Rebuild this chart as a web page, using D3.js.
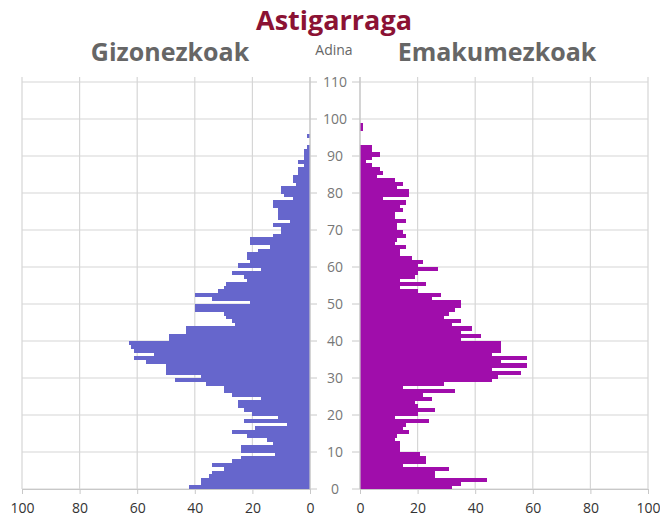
<!DOCTYPE html>
<html>
<head>
<meta charset="utf-8">
<style>
  body { margin: 0; background: #fff; }
  svg { display: block; font-family: 'Open Sans', sans-serif; }
  .grid line { stroke: #d6d6d6; stroke-width: 1.2; }
  .axis-line { stroke: #c8c8c8; stroke-width: 1.2; }
  .age-label { font-size: 14px; fill: #777; }
  .val-label { font-size: 14px; fill: #333; }
  .bars rect { shape-rendering: crispEdges; }
</style>
</head>
<body>
<svg width="660" height="519"></svg>
<script src="https://d3js.org/d3.v7.min.js"></script>
<script>
// single year ages 0..100
const ages = d3.range(0, 101);

const men = [
  42, 38, 38, 35, 34, 30, 34, 27, 24, 12,   // 0-9
  24, 24, 13, 15, 22, 27, 19, 8, 23, 11,    // 10-19
  20, 23, 25, 25, 17, 27, 30, 30, 36, 47,   // 20-29
  38, 50, 50, 50, 57, 61, 54, 61, 62, 63,   // 30-39
  49, 49, 43, 43, 26, 27, 29, 30, 40, 40,   // 40-49
  21, 34, 40, 32, 30, 29, 22, 23, 27, 17,   // 50-59
  25, 21, 22, 22, 18, 14, 21, 21, 13, 10,   // 60-69
  10, 13, 7, 11, 11, 11, 13, 13, 6, 9,      // 70-79
  10, 10, 5, 6, 6, 4, 4, 2, 4, 2,           // 80-89
  2, 2, 1, 0, 0, 1, 0, 0, 0, 0,             // 90-99
  0
];

const women = [
  32, 35, 44, 26, 26, 31, 15, 23, 23, 21,   // 0-9
  14, 14, 14, 12, 13, 17, 15, 16, 24, 12,   // 10-19
  20, 26, 20, 19, 25, 22, 33, 15, 29, 46,   // 20-29
  48, 56, 46, 58, 49, 58, 46, 49, 49, 49,   // 30-39
  35, 42, 35, 39, 32, 35, 29, 31, 33, 35,   // 40-49
  35, 25, 28, 20, 14, 23, 14, 19, 20, 27,   // 50-59
  20, 22, 18, 14, 14, 16, 12, 13, 16, 15,   // 60-69
  13, 13, 16, 12, 12, 15, 14, 16, 8, 17,    // 70-79
  17, 13, 15, 12, 6, 8, 7, 4, 2, 4,         // 80-89
  7, 4, 4, 0, 0, 0, 0, 1, 1, 0,             // 90-99
  0
];

const ageTicks = d3.range(0, 111, 10);
const valueTicks = [0, 20, 40, 60, 80, 100];

const svg = d3.select("svg");

let y = d3.scaleLinear().domain([0, 110]).range([489, 82]);
let xMen = d3.scaleLinear().domain([0, 100]).range([310, 22]);
let xWomen = d3.scaleLinear().domain([0, 100]).range([360, 648]);

const gridTop = y(110) - 5;

// gridlines
[xMen, xWomen].forEach(x => {
  let g = svg.append("g").attr("class", "grid");
  g.selectAll(".v")
    .data(valueTicks)
    .join("line")
    .attr("x1", d => x(d)).attr("x2", d => x(d))
    .attr("y1", gridTop).attr("y2", y(0));
  g.selectAll(".h")
    .data(ageTicks)
    .join("line")
    .attr("x1", x(0)).attr("x2", x(100))
    .attr("y1", d => y(d)).attr("y2", d => y(d));
});

// bars
svg.append("g")
  .attr("class", "bars")
  .selectAll("rect")
  .data(ages)
  .join("rect")
  .attr("x", a => xMen(men[a]))
  .attr("y", a => y(a + 1))
  .attr("width", a => xMen(0) - xMen(men[a]))
  .attr("height", a => y(a) - y(a + 1) + 0.6)
  .attr("fill", "#6666cc");

svg.append("g")
  .attr("class", "bars")
  .selectAll("rect")
  .data(ages)
  .join("rect")
  .attr("x", xWomen(0))
  .attr("y", a => y(a + 1))
  .attr("width", a => xWomen(women[a]) - xWomen(0))
  .attr("height", a => y(a) - y(a + 1) + 0.6)
  .attr("fill", "#a00dab");

// zero axis lines
svg.append("line").attr("class", "axis-line")
  .attr("x1", xMen(0)).attr("x2", xMen(0)).attr("y1", gridTop).attr("y2", y(0));
svg.append("line").attr("class", "axis-line")
  .attr("x1", xWomen(0)).attr("x2", xWomen(0)).attr("y1", gridTop).attr("y2", y(0));

// bottom axes
[xMen, xWomen].forEach(x => {
  let ax = svg.append("g")
    .attr("transform", `translate(0, ${y(0)})`)
    .call(d3.axisBottom(x).tickValues(valueTicks).tickSize(5).tickPadding(9).tickFormat(d3.format("d")));
  ax.select(".domain").attr("stroke", "#c8c8c8");
  ax.selectAll(".tick line").attr("stroke", "#c8c8c8");
  ax.selectAll(".tick text").attr("class", "val-label").style("font-family", "'Open Sans', sans-serif").attr("font-size", null);
});

// age axis in the middle
let mid = (xMen(0) + xWomen(0)) / 2;
let ageAxis = svg.append("g");
ageAxis.selectAll(".tl")
  .data(ageTicks)
  .join("line")
  .attr("x1", xMen(0)).attr("x2", xMen(0) + 7)
  .attr("y1", d => y(d)).attr("y2", d => y(d))
  .attr("stroke", "#c8c8c8");
ageAxis.selectAll(".tr")
  .data(ageTicks)
  .join("line")
  .attr("x1", xWomen(0) - 8).attr("x2", xWomen(0))
  .attr("y1", d => y(d)).attr("y2", d => y(d))
  .attr("stroke", "#c8c8c8");
ageAxis.selectAll("text")
  .data(ageTicks)
  .join("text")
  .attr("class", "age-label")
  .attr("x", mid)
  .attr("y", d => y(d))
  .attr("dy", "0.35em")
  .attr("text-anchor", "middle")
  .text(d => d);

// titles
svg.append("text")
  .attr("x", 334).attr("y", 30)
  .attr("text-anchor", "middle")
  .style("font-size", "27px").style("font-weight", "bold")
  .attr("fill", "#8b1234")
  .text("Astigarraga");

svg.append("text")
  .attr("x", 170).attr("y", 61)
  .attr("text-anchor", "middle")
  .style("font-size", "25px").style("font-weight", "bold")
  .attr("fill", "#666")
  .text("Gizonezkoak");

svg.append("text")
  .attr("x", 497).attr("y", 61)
  .attr("text-anchor", "middle")
  .style("font-size", "25px").style("font-weight", "bold")
  .attr("fill", "#666")
  .text("Emakumezkoak");

svg.append("text")
  .attr("x", 334).attr("y", 55)
  .attr("text-anchor", "middle")
  .style("font-size", "14px")
  .attr("fill", "#666")
  .text("Adina");
</script>
</body>
</html>
